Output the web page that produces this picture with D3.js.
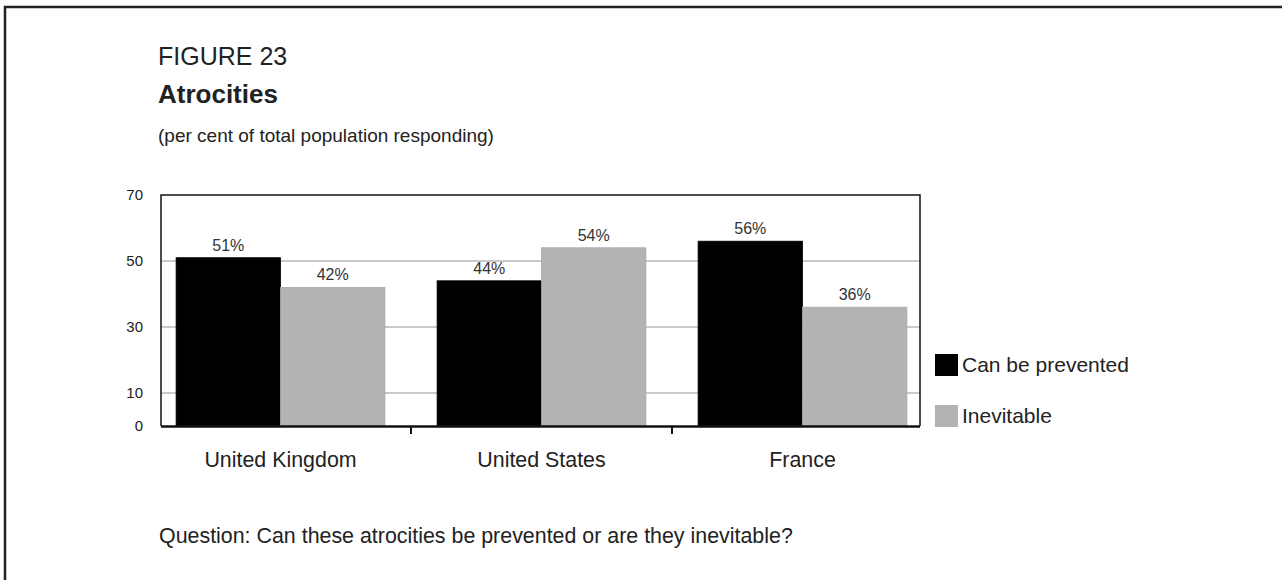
<!DOCTYPE html>
<html>
<head>
<meta charset="utf-8">
<script src="https://cdn.jsdelivr.net/npm/d3@7"></script>
<style>
  html, body { margin: 0; padding: 0; background: #fff; }
  svg { display: block; font-family: "Liberation Sans", Arial, Helvetica, sans-serif; }
</style>
</head>
<body>
<svg id="chart" width="1282" height="580"></svg>
<script>
// Survey results: share of respondents per country
const categories = ["United Kingdom", "United States", "France"];
const seriesNames = ["Can be prevented", "Inevitable"];
const preventedValues = [51, 44, 56];
const inevitableValues = [42, 54, 36];
const yTickValues = [0, 10, 30, 50, 70];
const gridValues = [10, 30, 50];

const seriesColors = ["#000000", "#b3b3b3"];
const textColor = "#222";

const svg = d3.select("#chart");

// Page frame: rule across the top and down the left side
svg.append("line").attr("x1", 4).attr("x2", 1282).attr("y1", 7).attr("y2", 7)
  .attr("stroke", "#222").attr("stroke-width", 2.5);
svg.append("line").attr("x1", 5).attr("x2", 5).attr("y1", 6).attr("y2", 580)
  .attr("stroke", "#222").attr("stroke-width", 2.5);

// Headings
svg.append("text").attr("x", 158).attr("y", 65)
  .attr("font-size", 25).attr("fill", textColor).text("FIGURE 23");
svg.append("text").attr("x", 158).attr("y", 103)
  .attr("font-size", 26).attr("font-weight", "bold").attr("fill", textColor).text("Atrocities");
svg.append("text").attr("x", 158).attr("y", 142)
  .attr("font-size", 19).attr("fill", textColor).text("(per cent of total population responding)");

// Plot area
const plot = { left: 161, right: 920, top: 195, bottom: 426 };

const y = d3.scaleLinear().domain([0, 70]).range([plot.bottom, plot.top]);
const x0 = d3.scaleBand().domain(categories).range([150, 933])
  .paddingInner(0.2).paddingOuter(0.1);
const x1 = d3.scaleBand().domain(seriesNames).range([0, x0.bandwidth()]);

// Gridlines
svg.append("g").selectAll("line").data(gridValues).join("line")
  .attr("x1", plot.left).attr("x2", plot.right)
  .attr("y1", d => y(d)).attr("y2", d => y(d))
  .attr("stroke", "#b8b8b8").attr("stroke-width", 1.5);

// Y axis labels
const yAxis = d3.axisLeft(y).tickValues(yTickValues).tickSize(0).tickPadding(0);
const yG = svg.append("g").attr("transform", `translate(143,0)`).call(yAxis);
yG.select(".domain").remove();
yG.selectAll("text").attr("font-size", 15).attr("fill", textColor)
  .attr("font-family", "Liberation Sans, Arial, sans-serif");

// Bars
const rows = categories.map((c, i) => ({
  category: c,
  values: [
    { series: seriesNames[0], value: preventedValues[i], color: seriesColors[0] },
    { series: seriesNames[1], value: inevitableValues[i], color: seriesColors[1] }
  ]
}));

const groups = svg.append("g").selectAll("g").data(rows).join("g")
  .attr("transform", d => `translate(${x0(d.category)},0)`);

groups.selectAll("rect").data(d => d.values).join("rect")
  .attr("x", d => x1(d.series))
  .attr("y", d => y(d.value))
  .attr("width", x1.bandwidth())
  .attr("height", d => y(0) - y(d.value))
  .attr("fill", d => d.color)
  .attr("stroke", d => d.color === "#000000" ? "#000" : "#a8a8a8")
  .attr("stroke-width", 0.8);

groups.selectAll("text.val").data(d => d.values).join("text")
  .attr("class", "val")
  .attr("x", d => x1(d.series) + x1.bandwidth() / 2)
  .attr("y", d => y(d.value) - 7)
  .attr("text-anchor", "middle")
  .attr("font-size", 16).attr("fill", "#333")
  .text(d => d.value + "%");

// Plot frame (top, left, right)
svg.append("path")
  .attr("d", `M${plot.left},${plot.bottom} V${plot.top} H${plot.right} V${plot.bottom}`)
  .attr("fill", "none").attr("stroke", "#111").attr("stroke-width", 1.5);

// Category axis
const xAxis = d3.axisBottom(x0).tickSize(0).tickPadding(0);
const xG = svg.append("g").attr("transform", `translate(0,${plot.bottom})`).call(xAxis);
xG.select(".domain").remove();
xG.selectAll("text").attr("font-size", 21.4).attr("fill", textColor)
  .attr("font-family", "Liberation Sans, Arial, sans-serif")
  .attr("dy", null).attr("y", 40.5);

svg.append("line").attr("x1", plot.left).attr("x2", plot.right)
  .attr("y1", plot.bottom + 0.5).attr("y2", plot.bottom + 0.5)
  .attr("stroke", "#111").attr("stroke-width", 2.5);

// Separator ticks between country groups
const sepPositions = categories.slice(1).map(c => x0(c) - x0.step() * x0.paddingInner() / 2);
svg.append("g").selectAll("line").data(sepPositions).join("line")
  .attr("x1", d => d).attr("x2", d => d)
  .attr("y1", plot.bottom).attr("y2", plot.bottom + 8)
  .attr("stroke", "#111").attr("stroke-width", 2);

// Legend
const legend = svg.append("g").selectAll("g").data(seriesNames).join("g")
  .attr("transform", (d, i) => `translate(935,${354 + i * 51})`);
legend.append("rect").attr("width", 23).attr("height", 22)
  .attr("fill", (d, i) => seriesColors[i]);
legend.append("text").attr("x", 27).attr("y", 18)
  .attr("font-size", 21).attr("fill", textColor).text(d => d);

// Survey question
svg.append("text").attr("x", 159).attr("y", 543)
  .attr("font-size", 21.4).attr("fill", textColor)
  .text("Question: Can these atrocities be prevented or are they inevitable?");
</script>
</body>
</html>
